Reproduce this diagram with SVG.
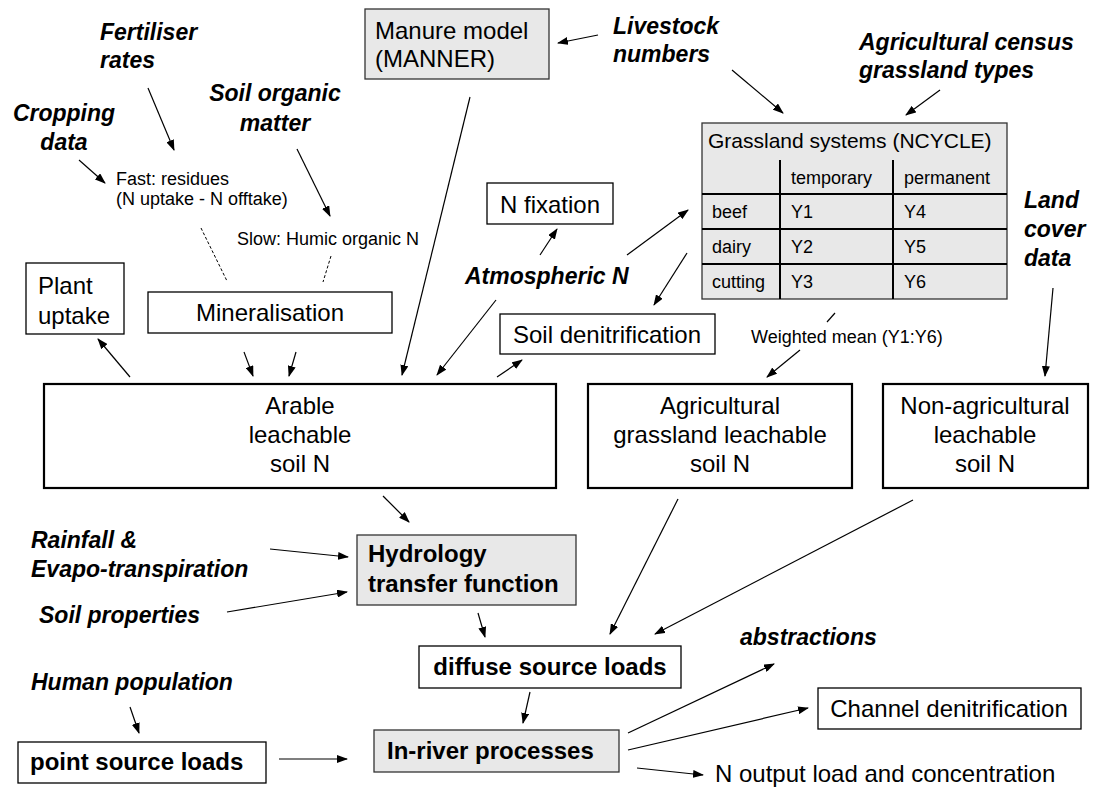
<svg xmlns="http://www.w3.org/2000/svg" width="1094" height="794" viewBox="0 0 1094 794">
<defs>
<marker id="ah" markerWidth="11" markerHeight="8" refX="10" refY="4" orient="auto" markerUnits="userSpaceOnUse"><path d="M0,0 L11,4 L0,8 z" fill="#000"/></marker>
<style>
text{font-family:"Liberation Sans",Arial,sans-serif;fill:#000}
.lbl{font-size:23px;font-weight:bold;font-style:italic}
.reg{font-size:24px}
.bold{font-size:24px;font-weight:bold}
.sm{font-size:18px}
.tb{font-size:18px}
.box{fill:#fff;stroke:#000;stroke-width:1.3}
.gbox{fill:#e8e8e8;stroke:#333;stroke-width:1.3}
.tbox{fill:#fff;stroke:#000;stroke-width:2.2}
.c line{stroke:#000;stroke-width:1.2;marker-end:url(#ah)}
.c line.d{stroke-dasharray:3,2;stroke-width:1;marker-end:none}
.c line.p{marker-end:none}
.mid{text-anchor:middle}
</style>
</defs>
<rect width="1094" height="794" fill="#fff"/>

<g id="fertiliser"><text class="lbl" x="100" y="40">Fertiliser</text><text class="lbl" x="100" y="68">rates</text></g>
<g id="cropping"><text class="lbl mid" x="64" y="121">Cropping</text><text class="lbl mid" x="64" y="150">data</text></g>
<g id="soilorganic"><text class="lbl mid" x="275" y="101">Soil organic</text><text class="lbl mid" x="275" y="131">matter</text></g>
<g id="livestock"><text class="lbl" x="613" y="34">Livestock</text><text class="lbl" x="613" y="62">numbers</text></g>
<g id="census"><text class="lbl" x="859" y="50">Agricultural census</text><text class="lbl" x="859" y="78">grassland types</text></g>
<g id="landcover"><text class="lbl" x="1024" y="208">Land</text><text class="lbl" x="1024" y="237">cover</text><text class="lbl" x="1024" y="266">data</text></g>
<g id="atmospheric"><text class="lbl" x="465" y="284">Atmospheric N</text></g>
<g id="rainfall"><text class="lbl" x="31" y="548">Rainfall &amp;</text><text class="lbl" x="31" y="577">Evapo-transpiration</text></g>
<g id="soilprops"><text class="lbl" x="39" y="623">Soil properties</text></g>
<g id="human"><text class="lbl" x="31" y="690">Human population</text></g>
<g id="abstractions"><text class="lbl" x="740" y="645">abstractions</text></g>

<g id="fast"><text class="sm" x="116" y="185">Fast: residues</text><text class="sm" x="116" y="205">(N uptake - N offtake)</text></g>
<g id="slow"><text class="sm" x="237" y="245">Slow: Humic organic N</text></g>

<g id="manure"><rect class="gbox" x="365" y="9" width="184" height="70"/><text class="reg" x="375" y="39">Manure model</text><text class="reg" x="375" y="67">(MANNER)</text></g>

<g id="grassland">
<rect x="702" y="123" width="305" height="176" fill="#e8e8e8" stroke="#333" stroke-width="1.3"/>
<g stroke="#000" stroke-width="2">
<line x1="702" y1="194" x2="1007" y2="194"/>
<line x1="702" y1="229" x2="1007" y2="229"/>
<line x1="702" y1="264" x2="1007" y2="264"/>
<line x1="780" y1="160" x2="780" y2="299"/>
<line x1="893" y1="160" x2="893" y2="299"/>
</g>
<text x="708" y="148" style="font-size:21px">Grassland systems (NCYCLE)</text>
<text class="tb" x="791" y="184">temporary</text><text class="tb" x="904" y="184">permanent</text>
<text class="tb" x="712" y="218">beef</text><text class="tb" x="791" y="218">Y1</text><text class="tb" x="904" y="218">Y4</text>
<text class="tb" x="712" y="253">dairy</text><text class="tb" x="791" y="253">Y2</text><text class="tb" x="904" y="253">Y5</text>
<text class="tb" x="712" y="288">cutting</text><text class="tb" x="791" y="288">Y3</text><text class="tb" x="904" y="288">Y6</text>
</g>
<g id="weighted"><text class="sm" x="751" y="343">Weighted mean (Y1:Y6)</text></g>

<g id="plantuptake"><rect class="box" x="26" y="263" width="98" height="71"/><text class="reg" x="38" y="294">Plant</text><text class="reg" x="38" y="324">uptake</text></g>
<g id="mineralisation"><rect class="box" x="148" y="292" width="244" height="41"/><text class="reg mid" x="270" y="321">Mineralisation</text></g>
<g id="nfixation"><rect class="box" x="487" y="183" width="126" height="41"/><text class="reg mid" x="550" y="213">N fixation</text></g>
<g id="soildenit"><rect class="box" x="500" y="314" width="215" height="40"/><text class="reg mid" x="607" y="343">Soil denitrification</text></g>

<g id="arable"><rect class="tbox" x="44" y="384" width="512" height="104"/><text class="reg mid" x="300" y="414">Arable</text><text class="reg mid" x="300" y="443">leachable</text><text class="reg mid" x="300" y="472">soil N</text></g>
<g id="agri"><rect class="tbox" x="588" y="384" width="264" height="104"/><text class="reg mid" x="720" y="414">Agricultural</text><text class="reg mid" x="720" y="443">grassland leachable</text><text class="reg mid" x="720" y="472">soil N</text></g>
<g id="nonagri"><rect class="tbox" x="883" y="384" width="205" height="104"/><text class="reg mid" x="985" y="414">Non-agricultural</text><text class="reg mid" x="985" y="443">leachable</text><text class="reg mid" x="985" y="472">soil N</text></g>

<g id="hydrology"><rect class="gbox" x="357" y="535" width="219" height="70"/><text class="bold" x="368" y="562">Hydrology</text><text class="bold" x="368" y="592">transfer function</text></g>
<g id="diffuse"><rect class="box" x="419" y="646" width="262" height="42"/><text class="bold mid" x="550" y="675">diffuse source loads</text></g>
<g id="inriver"><rect class="gbox" x="374" y="730" width="245" height="42"/><text class="bold" x="387" y="759">In-river processes</text></g>
<g id="pointsource"><rect class="box" x="18" y="742" width="248" height="41"/><text class="bold" x="30" y="770">point source loads</text></g>
<g id="channel"><rect class="box" x="818" y="688" width="263" height="41"/><text class="reg mid" x="949" y="717">Channel denitrification</text></g>
<g id="noutput"><text class="reg" x="715" y="782">N output load and concentration</text></g>

<g id="connectors" class="c">
<line x1="148" y1="88" x2="174" y2="150"/>
<line x1="79" y1="160" x2="105" y2="183"/>
<line x1="297" y1="149" x2="330" y2="216"/>
<line class="d" x1="201" y1="228" x2="227" y2="281"/>
<line class="d" x1="331" y1="256" x2="323" y2="282"/>
<line x1="598" y1="35" x2="558" y2="43"/>
<line x1="470" y1="97" x2="402" y2="375"/>
<line x1="732" y1="70" x2="783" y2="113"/>
<line x1="940" y1="90" x2="906" y2="115"/>
<line x1="540" y1="255" x2="557" y2="229"/>
<line x1="627" y1="255" x2="688" y2="210"/>
<line x1="687" y1="253" x2="654" y2="305"/>
<line x1="496" y1="300" x2="437" y2="375"/>
<line x1="497" y1="377" x2="522" y2="360"/>
<line x1="130" y1="377" x2="98" y2="339"/>
<line x1="244" y1="352" x2="253" y2="376"/>
<line x1="296" y1="352" x2="289" y2="376"/>
<line class="p" x1="835" y1="313" x2="827" y2="322"/>
<line x1="800" y1="350" x2="767" y2="377"/>
<line x1="1053" y1="288" x2="1045" y2="376"/>
<line x1="383" y1="496" x2="409" y2="522"/>
<line x1="270" y1="549" x2="348" y2="557"/>
<line x1="227" y1="612" x2="347" y2="592"/>
<line x1="478" y1="613" x2="485" y2="637"/>
<line x1="678" y1="499" x2="610" y2="634"/>
<line x1="913" y1="500" x2="655" y2="634"/>
<line x1="530" y1="692" x2="523" y2="723"/>
<line x1="130" y1="707" x2="139" y2="733"/>
<line x1="279" y1="759" x2="347" y2="759"/>
<line x1="628" y1="733" x2="774" y2="664"/>
<line x1="628" y1="750" x2="808" y2="708"/>
<line x1="637" y1="768" x2="703" y2="775"/>
</g>
</svg>
